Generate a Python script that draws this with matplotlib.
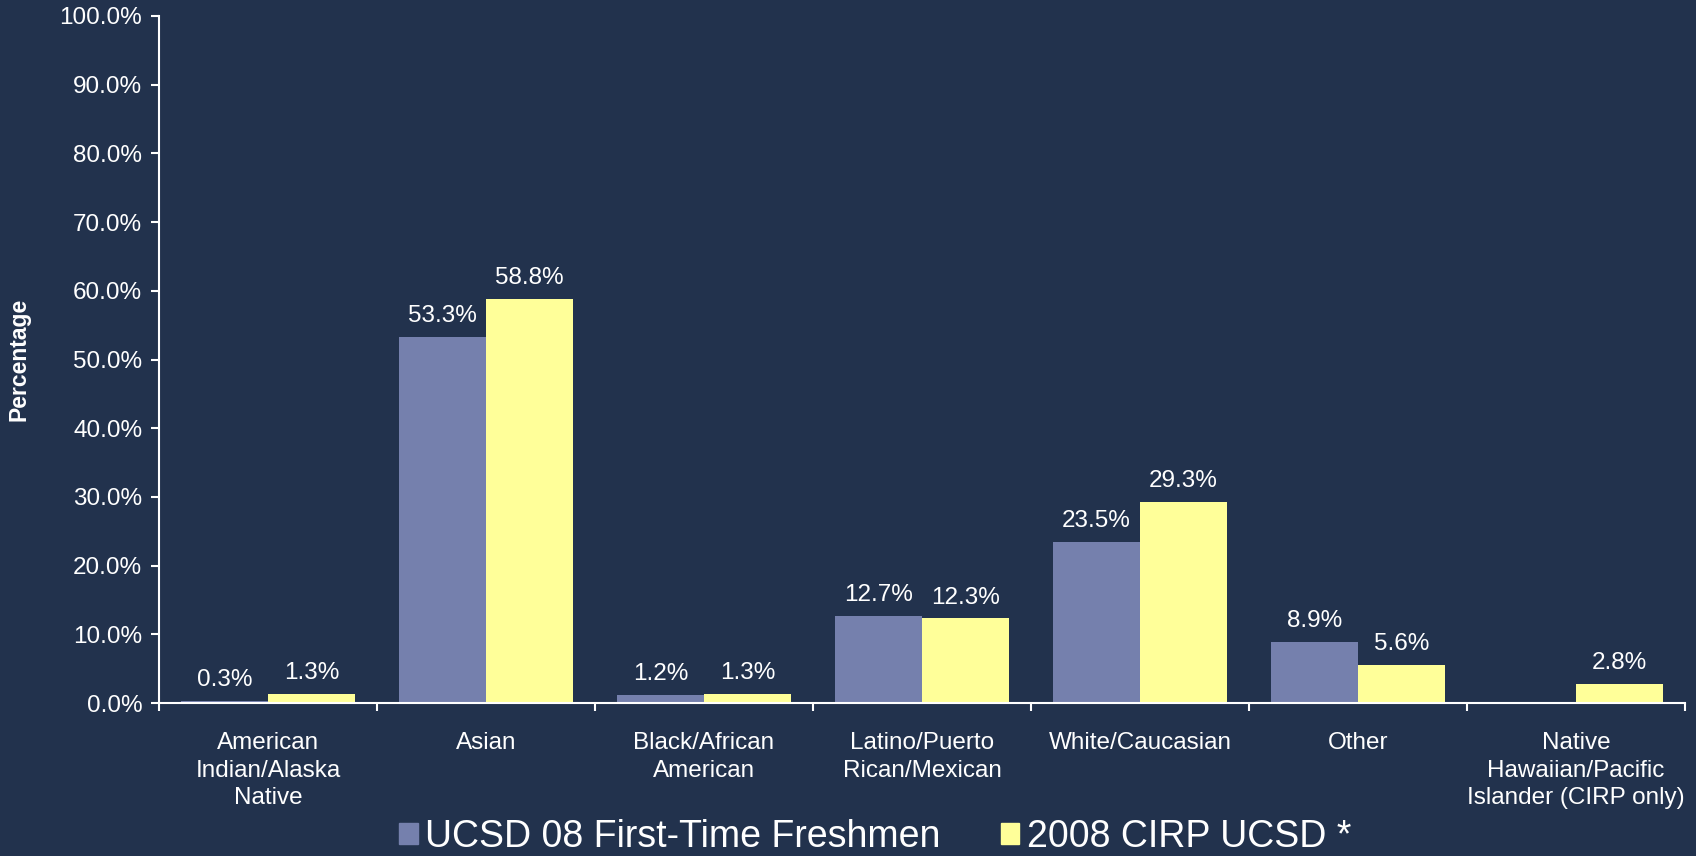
import matplotlib
matplotlib.use("Agg")
import matplotlib.pyplot as plt
import numpy as np
from matplotlib.patches import Patch

categories = ["American\nIndian/Alaska\nNative", "Asian", "Black/African\nAmerican",
              "Latino/Puerto\nRican/Mexican", "White/Caucasian", "Other",
              "Native\nHawaiian/Pacific\nIslander (CIRP only)"]
ucsd = [0.3, 53.3, 1.2, 12.7, 23.5, 8.9, np.nan]
cirp = [1.3, 58.8, 1.3, 12.3, 29.3, 5.6, 2.8]
series_names = ["UCSD 08 First-Time Freshmen", "2008 CIRP UCSD *"]
yticks = np.arange(0, 101, 10)

bg = "#22324D"
c1 = "#7580AD"
c2 = "#FFFF99"
fg = "white"

plt.rcParams['font.family'] = ['Liberation Sans', 'DejaVu Sans']

fig = plt.figure(figsize=(16.96, 8.56), dpi=100, facecolor=bg)
ax = fig.add_axes([159/1696, 1-703/856, (1685-159)/1696, (703-16)/856])
ax.set_facecolor(bg)

x = np.arange(len(categories))
w = 0.4
b1 = ax.bar(x - w/2, ucsd, w, color=c1)
b2 = ax.bar(x + w/2, cirp, w, color=c2)

for bars, vals in ((b1, ucsd), (b2, cirp)):
    for rect, v in zip(bars, vals):
        if np.isnan(v):
            continue
        ax.annotate(f"{v:.1f}%", (rect.get_x() + rect.get_width()/2, v),
                    xytext=(0, 7), textcoords="offset points",
                    ha="center", va="bottom", color=fg, fontsize=17.5)

ax.set_xlim(-0.5, len(categories) - 0.5)
ax.set_ylim(0, 100)
ax.set_yticks(yticks)
ax.set_yticklabels([f"{t:.1f}%" for t in yticks])
ax.set_xticks(x)
ax.set_xticklabels(categories, linespacing=1.32)
ax.set_xticks(np.arange(-0.5, len(categories)), minor=True)
ax.tick_params(axis='x', which='major', length=0, pad=21, colors=fg, labelsize=17.5)
ax.tick_params(axis='x', which='minor', length=6, width=1.5, color=fg, direction='out')
ax.tick_params(axis='y', length=6, width=1.5, colors=fg, labelsize=17.5, pad=6)
for s in ("top", "right"):
    ax.spines[s].set_visible(False)
for s in ("left", "bottom"):
    ax.spines[s].set_color(fg)
    ax.spines[s].set_linewidth(1.5)

ax.set_ylabel("Percentage", color=fg, fontsize=16.5, fontweight="bold")
ax.yaxis.set_label_coords(-0.084, 0.5)

handles = [Patch(color=c1), Patch(color=c2)]
leg = fig.legend(handles, series_names, loc="lower center", bbox_to_anchor=(0.516, -0.038),
                 ncol=2, frameon=False, fontsize=27, handlelength=0.5, handleheight=0.5,
                 handletextpad=0.2, columnspacing=1.6, labelcolor=fg)

fig.savefig("out.png", dpi=100, facecolor=bg)
